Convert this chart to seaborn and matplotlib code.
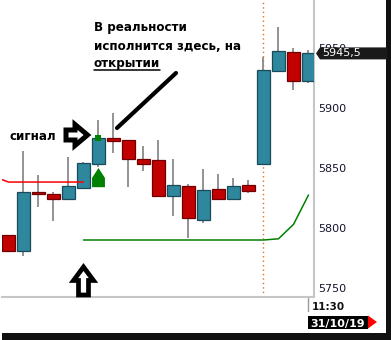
import matplotlib
matplotlib.use("Agg")
import matplotlib.pyplot as plt
from matplotlib.patches import Polygon
from matplotlib.lines import Line2D
import seaborn as sns
import numpy as np
import pandas as pd

# ---- data -------------------------------------------------------------
opens  = [5794, 5781, 5830, 5828, 5824, 5833, 5853, 5875, 5873, 5857.5, 5857,
          5827, 5835, 5806.7, 5832.5, 5824, 5836, 5853, 5930.8, 5946.7, 5922.5]
closes = [5781, 5830, 5828, 5824, 5835, 5854, 5875, 5872.5, 5857.5, 5853, 5827,
          5836, 5808, 5831.7, 5824, 5835, 5831, 5931.7, 5947.5, 5922.5, 5945.5]
highs  = [5794, 5864, 5844, 5830, 5859, 5855, 5890, 5896, 5873, 5868, 5873,
          5857.5, 5837, 5849, 5845, 5841.7, 5840, 5942.5, 5967.5, 5950, 5948]
lows   = [5781, 5776.7, 5817.5, 5806, 5824, 5833, 5851, 5862.5, 5834, 5847.5, 5826,
          5810, 5792, 5804, 5823, 5824, 5829, 5853, 5930.8, 5915, 5921]

red_x = [-1, 0, 1, 2, 3, 4, 5]
red_y = [5843, 5838.3, 5838.3, 5838.3, 5838.3, 5838.3, 5838.3]
green_x = [5, 6, 7, 8, 9, 10, 11, 12, 13, 14, 15, 16, 17, 18, 19, 20]
green_y = [5790, 5790, 5790, 5790, 5790, 5790, 5790, 5790, 5790, 5790, 5790,
           5790, 5790, 5791, 5803, 5827.5]

signal_index = 6
session_index = 17
last_price = 5945.5
last_price_label = "5945,5"
y_ticks = [5750, 5800, 5850, 5900, 5950]
time_label = "11:30"
date_label = "31/10/19"
signal_text = "сигнал"
note_lines = ["В реальности", "исполнится здесь, на", "открытии"]

# ---- styling ----------------------------------------------------------
sns.set_style("white")
plt.rcParams["font.family"] = ["DejaVu Sans"]

W, H = 391, 340
fig = plt.figure(figsize=(W / 100, H / 100), dpi=100)
fig.patch.set_facecolor("white")

ax_l, ax_r, ax_t, ax_b = 2, 314, 0, 297
ax = fig.add_axes([ax_l / W, 1 - ax_b / H, (ax_r - ax_l) / W, (ax_b - ax_t) / H])
ax.set_facecolor("white")

TEAL, TEAL_E = "#2e879c", "#1b4b5a"
RED, RED_E = "#c20000", "#700000"
WICK = "#8a8a8a"

x = np.arange(len(opens))
df = pd.DataFrame({"x": x, "open": opens, "close": closes, "high": highs, "low": lows})
up = df["close"] >= df["open"]

ax.vlines(df["x"], df["low"], df["high"], color=WICK, lw=1.3, zorder=2)
body_lo = np.minimum(df["open"], df["close"])
body_h = np.abs(df["close"] - df["open"])
ax.bar(df["x"][up], body_h[up], bottom=body_lo[up], width=0.86,
       color=TEAL, edgecolor=TEAL_E, linewidth=0.9, zorder=3)
ax.bar(df["x"][~up], body_h[~up], bottom=body_lo[~up], width=0.86,
       color=RED, edgecolor=RED_E, linewidth=0.9, zorder=3)

sns.lineplot(x=red_x, y=red_y, ax=ax, color="#ff0000", lw=1.1, zorder=4)
sns.lineplot(x=green_x, y=green_y, ax=ax, color="#008000", lw=1.1, zorder=4)

ax.axvline(session_index, color="#e07020", ls=(0, (1, 2.2)), lw=1.0, zorder=1)

# signal markers
ax.scatter([signal_index], [closes[signal_index]], marker="s", s=14,
           color="#008000", zorder=5, linewidths=0)
sx = signal_index
lo = lows[signal_index]
hw = 0.43
ax.add_patch(Polygon([(sx - hw, lo - 17), (sx - hw, lo - 9.3), (sx, lo - 1),
                      (sx + hw, lo - 9.3), (sx + hw, lo - 17)],
                     closed=True, fc="#008000", ec="none", zorder=5))

ax.set_xlim(-0.4333, 20.367)
ax.set_ylim(5742.5, 5990)
ax.set_xticks([])
ax.yaxis.tick_right()
ax.set_yticks(y_ticks)
ax.set_yticklabels([str(t) for t in y_ticks])
ax.tick_params(axis="y", length=0, pad=3, labelsize=8, labelcolor="#14142e")
for s in ["top", "left"]:
    ax.spines[s].set_visible(False)
for s in ["right", "bottom"]:
    ax.spines[s].set_color("#c6c6c6")
    ax.spines[s].set_linewidth(1.5)
ax.set_xlabel("")
ax.set_ylabel("")

# ---- pixel helpers ----------------------------------------------------
def P(px, py):
    return (px / W, 1 - py / H)

def poly(pts, **kw):
    fig.patches.append(Polygon([P(a, b) for a, b in pts], closed=True,
                               transform=fig.transFigure, **kw))

# last price label
ypx = H - ax.transData.transform((0, last_price))[1]
poly([(316, ypx), (320, ypx - 6), (387, ypx - 6), (387, ypx + 6), (320, ypx + 6)],
     fc="#1a1a1a", ec="none", zorder=5)
fig.text(*P(322.5, ypx), last_price_label, color="white", fontsize=8,
         va="center", ha="left", zorder=6)

# frame bars
poly([(386, 0), (391, 0), (391, 340), (386, 340)], fc="#111111", ec="none", zorder=4)
poly([(2, 333), (391, 333), (391, 340), (2, 340)], fc="#111111", ec="none", zorder=4)

# time axis labels
fig.lines.append(Line2D([308 / W, 308 / W], [1 - 298 / H, 1 - 311 / H],
                        transform=fig.transFigure, color="#9a9a9a", lw=1))
fig.text(*P(312, 309.5), time_label, fontsize=7.5, fontweight="bold",
         color="#111111", va="baseline", ha="left")
poly([(308, 316), (368, 316), (368, 328.5), (308, 328.5)], fc="black", ec="none", zorder=4)
poly([(368, 315.5), (377, 322), (368, 328.5)], fc="#ff0000", ec="none", zorder=4)
fig.text(*P(310.5, 327), date_label, fontsize=8, fontweight="bold",
         color="white", va="baseline", ha="left", zorder=6)

# annotations
fig.text(*P(9, 139.5), signal_text, fontsize=8.6, fontweight="bold",
         color="black", va="baseline", ha="left")
poly([(66, 130), (75, 130), (75, 124.5), (87.5, 135), (75, 145.5), (75, 140), (66, 140)],
     fc="white", ec="black", lw=3.6, joinstyle="miter", zorder=6)
poly([(78.5, 295), (78.5, 280.5), (73.5, 280.5), (83.5, 267), (93.5, 280.5),
      (88.5, 280.5), (88.5, 295)],
     fc="white", ec="black", lw=3.4, joinstyle="miter", zorder=6)
fig.lines.append(Line2D([117 / W, 176 / W], [1 - 128 / H, 1 - 73 / H],
                        transform=fig.transFigure, color="black", lw=3.0,
                        solid_capstyle="round", zorder=6))

baselines = [30.5, 49.5, 67]
texts = []
for line, b in zip(note_lines, baselines):
    texts.append(fig.text(*P(94, b), line, fontsize=8.6, fontweight="bold",
                          color="black", va="baseline", ha="left"))

fig.canvas.draw()
bb = texts[2].get_window_extent()
fig.lines.append(Line2D([bb.x0 / W, bb.x1 / W], [1 - 70 / H, 1 - 70 / H],
                        transform=fig.transFigure, color="black", lw=1.1))

fig.savefig("out.png", dpi=100)
